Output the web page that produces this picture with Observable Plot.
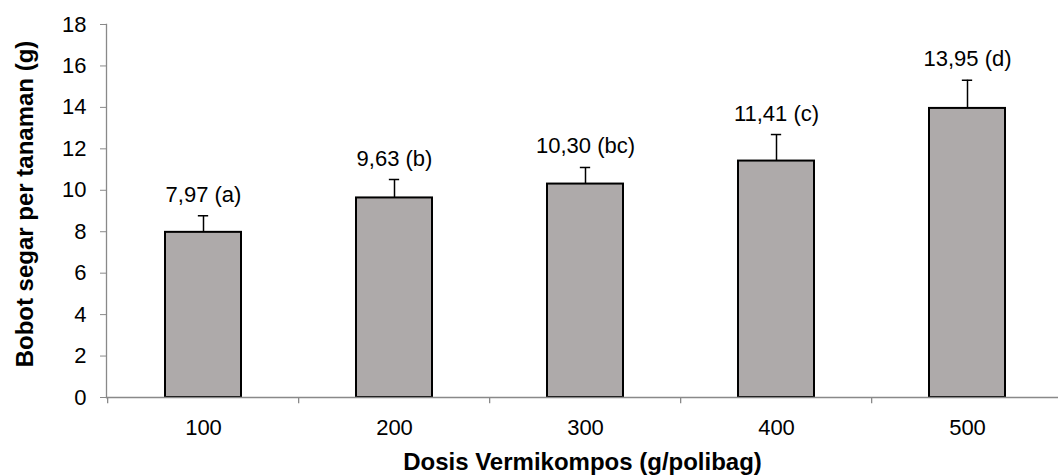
<!DOCTYPE html>
<html>
<head>
<meta charset="utf-8">
<script src="https://cdn.jsdelivr.net/npm/d3@7"></script>
<script src="https://cdn.jsdelivr.net/npm/@observablehq/plot@0.6"></script>
<style>
  html, body { margin: 0; padding: 0; background: #fff; }
  #chart svg { display: block; }
</style>
</head>
<body>
<div id="chart"></div>
<script>
const doses = ["100", "200", "300", "400", "500"];
const means = [7.97, 9.63, 10.30, 11.41, 13.95];
const errors = [0.80, 0.89, 0.80, 1.28, 1.36];
const letters = ["a", "b", "bc", "c", "d"];
const yTicks = [0, 2, 4, 6, 8, 10, 12, 14, 16, 18];
const xTitle = "Dosis Vermikompos (g/polibag)";
const yTitle = "Bobot segar per tanaman (g)";

const data = doses.map((d, i) => ({
  dose: d,
  mean: means[i],
  top: means[i] + errors[i],
  label: means[i].toFixed(2).replace(".", ",") + " (" + letters[i] + ")"
}));

const W = 1058, H = 476;
const left = 106, right = 1064.5;
const step = (right - left) / doses.length;
const font = "Liberation Sans, Arial, Helvetica, sans-serif";
const grey = "#898989";

const chart = Plot.plot({
  width: W,
  height: H,
  marginLeft: left,
  marginRight: 0,
  marginTop: 24,
  marginBottom: 79,
  style: { fontFamily: font, background: "#fff", color: "#000" },
  x: { type: "band", domain: doses, range: [left, right], paddingInner: 0.6, paddingOuter: 0.3, axis: null, label: null },
  y: { domain: [0, 18], axis: null, label: null },
  marks: [
    Plot.frame({ anchor: "left", stroke: grey, strokeWidth: 1.3 }),
    Plot.axisY({ ticks: yTicks, tickSize: 6, tickPadding: 14, stroke: grey, fill: "#000", fontSize: 22, label: null, tickFormat: d => String(d) }),
    Plot.rect(data, { x: "dose", y1: 0, y2: "mean", fill: "#AEAAAA", stroke: "#000", strokeWidth: 2 }),
    Plot.ruleY([0], { stroke: grey, strokeWidth: 1.3 }),
    Plot.ruleX(doses, { x: d => d, dx: -step / 2, y1: 0, y2: -0.3, stroke: grey, strokeWidth: 1.3 }),
    Plot.axisX({ tickSize: 0, tickPadding: 22, fill: "#000", fontSize: 22, label: null }),
    Plot.ruleX(data, { x: "dose", y1: "mean", y2: "top", stroke: "#000", strokeWidth: 1.5 }),
    Plot.tickY(data, { x: "dose", y: "top", stroke: "#000", strokeWidth: 1.5, insetLeft: (step * 0.4 - 11) / 2, insetRight: (step * 0.4 - 11) / 2 }),
    Plot.text(data, { x: "dose", y: "top", text: "label", dy: -14, lineAnchor: "bottom", fontSize: 22, fill: "#000" }),
    Plot.text([yTitle], { frameAnchor: "left", textAnchor: "middle", dx: -74, dy: -7, rotate: -90, lineAnchor: "bottom", fontSize: 24, fontWeight: "bold", fill: "#000" }),
    Plot.text([xTitle], { frameAnchor: "bottom", textAnchor: "middle", dy: 72, lineAnchor: "bottom", fontSize: 24, fontWeight: "bold", fill: "#000" })
  ]
});

document.getElementById("chart").appendChild(chart);
</script>
</body>
</html>
